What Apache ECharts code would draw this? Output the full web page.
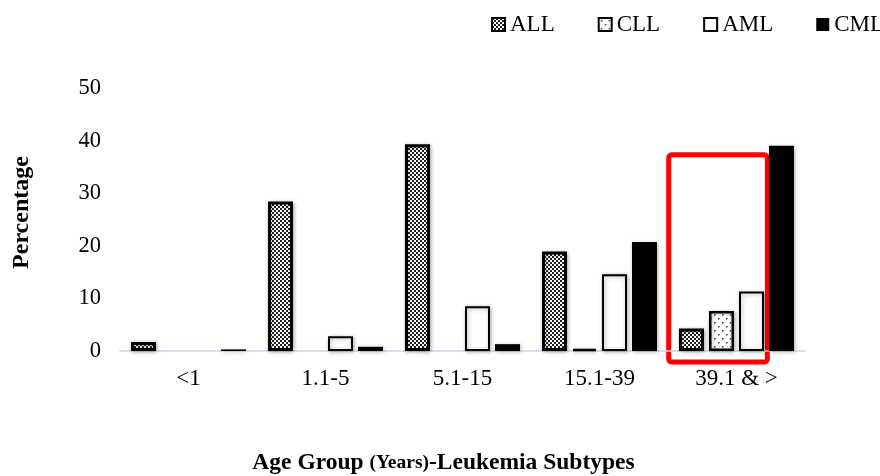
<!DOCTYPE html>
<html><head><meta charset="utf-8">
<script src="https://cdn.jsdelivr.net/npm/echarts@6/dist/echarts.min.js"></script>
<style>html,body{margin:0;padding:0;background:#fff}#c{width:880px;height:476px}</style>
</head><body><div id="c"></div>
<script>
const categories = ['<1', '1.1-5', '5.1-15', '15.1-39', '39.1 & >'];
const seriesNames = ['ALL', 'CLL', 'AML', 'CML'];
const allValues = [1.7, 28.4, 39.3, 18.9, 4.3];
const cllValues = [0, 0, 0, 0.4, 7.6];
const amlValues = [0, 2.8, 8.5, 14.6, 11.3];
const cmlValues = [0.3, 0.8, 1.3, 20.7, 39.0];
const yTicks = [0, 10, 20, 30, 40, 50];
const highlightCategory = 4;
const highlightTop = 37.3;

function checker() {
  const c = document.createElement('canvas'); c.width = 4; c.height = 4;
  const x = c.getContext('2d');
  x.fillStyle = '#fff'; x.fillRect(0, 0, 4, 4);
  x.fillStyle = '#222'; x.fillRect(0, 0, 2, 2); x.fillRect(2, 2, 2, 2);
  return c;
}
function dots() {
  const c = document.createElement('canvas'); c.width = 8; c.height = 8;
  const x = c.getContext('2d');
  x.fillStyle = '#fff'; x.fillRect(0, 0, 8, 8);
  x.fillStyle = '#333'; x.fillRect(2, 2, 1.5, 1.5); x.fillRect(6, 6, 1.5, 1.5);
  return c;
}
const styles = [
  { color: { image: checker(), repeat: 'repeat' }, borderColor: '#000', borderWidth: 3 },
  { color: { image: dots(), repeat: 'repeat' }, borderColor: '#000', borderWidth: 2.5 },
  { color: '#fff', borderColor: '#000', borderWidth: 2 },
  { color: '#000', borderColor: '#000', borderWidth: 0 }
];
const valueLists = [allValues, cllValues, amlValues, cmlValues];
const font = '"Liberation Serif", "Times New Roman", serif';

const chart = echarts.init(document.getElementById('c'), null, { renderer: 'canvas' });
chart.setOption({
  animation: false,
  textStyle: { fontFamily: font, color: '#000' },
  legend: {
    left: 486, top: 8, width: 420, itemWidth: 13, itemHeight: 13, itemGap: 43, icon: 'rect',
    textStyle: { fontFamily: font, fontSize: 23, color: '#000' },
    data: seriesNames
  },
  grid: { left: 120, right: 75, top: 88, bottom: 125, containLabel: false, outerBoundsMode: 'none' },
  xAxis: {
    type: 'category', data: categories,
    name: '{a|Age Group }{b|(Years)}{a|-Leukemia Subtypes}',
    nameLocation: 'middle', nameGap: 100,
    nameTextStyle: { padding: [0, 38, 0, 0], rich: {
      a: { fontFamily: font, fontWeight: 'bold', fontSize: 23.5, color: '#000' },
      b: { fontFamily: font, fontWeight: 'bold', fontSize: 19.5, color: '#000' }
    } },
    axisLine: { lineStyle: { color: '#c9d6ea', width: 1.5 } },
    axisTick: { show: false },
    axisLabel: { fontFamily: font, fontSize: 23, color: '#000', margin: 16 }
  },
  yAxis: {
    type: 'value', min: yTicks[0], max: yTicks[yTicks.length - 1], interval: 10,
    name: 'Percentage', nameLocation: 'middle', nameGap: 86, nameRotate: 90,
    nameTextStyle: { fontFamily: font, fontWeight: 'bold', fontSize: 24, color: '#000', padding: [0, 0, 0, 14] },
    axisLine: { show: false }, axisTick: { show: false },
    splitLine: { show: false },
    axisLabel: { fontFamily: font, fontSize: 22.5, color: '#000', margin: 19 }
  },
  series: seriesNames.map((n, i) => ({
    name: n, type: 'bar', barWidth: 25, barGap: '20%',
    itemStyle: Object.assign({ shadowBlur: 4, shadowColor: 'rgba(0,0,0,0.3)', shadowOffsetX: 1, shadowOffsetY: 1 }, styles[i]),
    data: valueLists[i].map(v => v === 0 ? null : v)
  }))
});

const cx = chart.convertToPixel({ xAxisIndex: 0 }, highlightCategory);
const band = chart.convertToPixel({ xAxisIndex: 0 }, 1) - chart.convertToPixel({ xAxisIndex: 0 }, 0);
const yTop = chart.convertToPixel({ yAxisIndex: 0 }, highlightTop);
const y0 = chart.convertToPixel({ yAxisIndex: 0 }, 0);
chart.setOption({
  graphic: [{
    type: 'rect',
    shape: { x: cx - band * 0.495, y: yTop, width: band * 0.72, height: (y0 - yTop) + 11, r: 3 },
    style: { fill: 'none', stroke: '#ff0000', lineWidth: 5 }
  }]
});
</script></body></html>
